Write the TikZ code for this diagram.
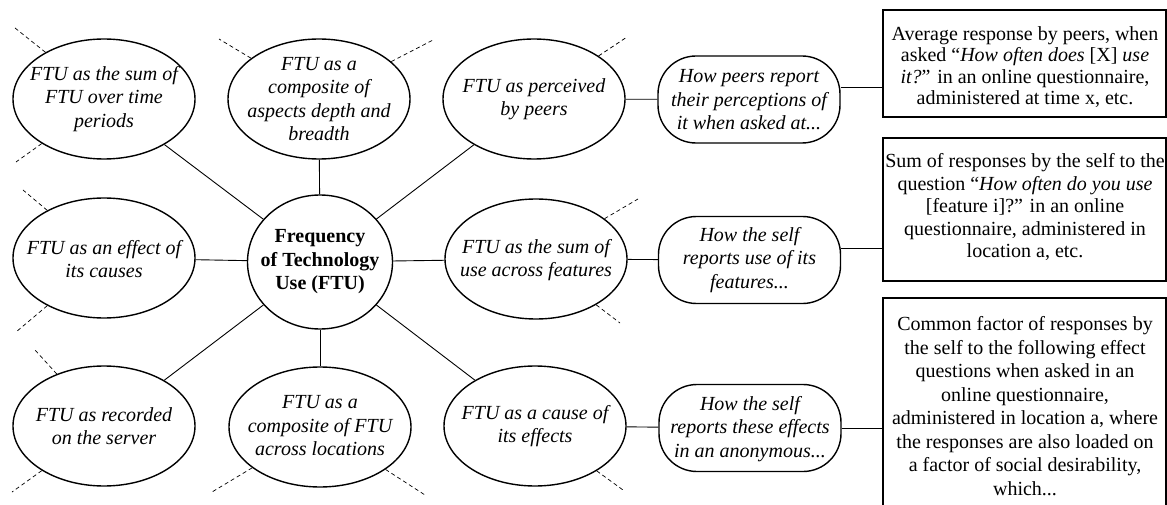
\documentclass[tikz,border=0pt]{standalone}
\usepackage{fontspec}
\setmainfont{Liberation Serif}[ItalicFont={Liberation Serif Italic},BoldFont={Liberation Serif Bold},BoldItalicFont={Liberation Serif Bold Italic}]
\usetikzlibrary{shapes.geometric}
\begin{document}
\begin{tikzpicture}[x=1pt,y=-1pt,
  ell/.style={draw, ellipse, line width=1.4pt, minimum width=182pt, minimum height=120pt, inner sep=0pt},
  etext/.style={align=center, font=\fontsize{20}{23.5}\selectfont\itshape, inner sep=0pt},
  ctext/.style={align=center, font=\fontsize{20}{23.5}\selectfont\bfseries, inner sep=0pt},
  pill/.style={draw, rectangle, rounded corners=38pt, line width=1.4pt, minimum width=182pt, minimum height=87pt, inner sep=0pt},
  boxshape/.style={draw, rectangle, line width=1.6pt, inner sep=0pt, minimum width=283pt},
  btext/.style={align=center, inner sep=0pt},
  link/.style={line width=0.9pt},
  stub/.style={line width=0.7pt, dash pattern=on 4pt off 3pt}
]
\useasboundingbox (0,0) rectangle (1167,505);
\clip (0,0) rectangle (1167,505);

% ellipses
\node[ell] (e1) at (104,99) {};
\node[ell] (e2) at (319,99) {};
\node[ell] (e3) at (534,99) {};
\node[ell] (e4) at (104,258) {};
\node[ell] (e5) at (536,259) {};
\node[ell] (e6) at (104,426) {};
\node[ell] (e7) at (320,427) {};
\node[ell] (e8) at (535,426) {};
\node[draw, ellipse, line width=1.4pt, minimum width=145pt, minimum height=134pt, inner sep=0pt] (c) at (320,262) {};

\node[etext] (e1t) at (104,99) {FTU as the sum of\\FTU over time\\periods};
\node[etext] (e2t) at (319,99) {FTU as a\\composite of\\aspects depth and\\breadth};
\node[etext] (e3t) at (534,99) {FTU as perceived\\by peers};
\node[etext] (e4t) at (104,259) {FTU as an effect of\\its causes};
\node[etext] (e5t) at (536,260) {FTU as the sum of\\use across features};
\node[etext] (e6t) at (104,426) {FTU as recorded\\on the server};
\node[etext] (e7t) at (320,426) {FTU as a\\composite of FTU\\across locations};
\node[etext] (e8t) at (535,426) {FTU as a cause of\\its effects};
\node[ctext] (ct) at (320,262) {Frequency\\of Technology\\Use (FTU)};

% pills
\node[pill] (r1) at (749,99.5) {};
\node[pill] (r2) at (749.5,260) {};
\node[pill] (r3) at (750,428) {};
\node[etext] (r1t) at (749,100) {How peers report\\their perceptions of\\it when asked at...};
\node[etext] (r2t) at (749.5,260) {How the self\\reports use of its\\features...};
\node[etext] (r3t) at (750,429) {How the self\\reports these effects\\in an anonymous...};

% boxes
\node[boxshape, minimum height=107pt] (b1) at (1024.5,63.5) {};
\node[boxshape, minimum height=143pt] (b2) at (1024.5,209.5) {};
\node[boxshape, minimum height=242pt] (b3) at (1024.5,419) {};
\node[btext, font=\fontsize{20}{21.5}\selectfont] (b1t) at (1025,67) {Average response by peers, when\\asked “\textit{How often does} [X] \textit{use}\\\textit{it?}” in an online questionnaire,\\administered at time x, etc.};
\node[btext, font=\fontsize{20}{22.5}\selectfont] (b2t) at (1025,207) {Sum of responses by the self to the\\question “\textit{How often do you use}\\{}[feature i]?” in an online\\questionnaire, administered in\\location a, etc.};
\node[btext, font=\fontsize{20}{23.5}\selectfont] (b3t) at (1025,406) {Common factor of responses by\\the self to the following effect\\questions when asked in an\\online questionnaire,\\administered in location a, where\\the responses are also loaded on\\a factor of social desirability,\\which...};

% connectors
\foreach \e in {e1,e2,e3,e4,e5,e6,e7,e8} \draw[link] (c) -- (\e);
\draw[link] (e3) -- (r1);
\draw[link] (e5) -- (r2);
\draw[link] (e8) -- (r3);
\coordinate (k1) at (883,87);
\coordinate (k2) at (883,248);
\coordinate (k3) at (883,428);
\draw[link] (r1.east |- k1) -- (k1);
\draw[link] (r2.east |- k2) -- (k2);
\draw[link] (r3.east |- k3) -- (k3);

% dashed stubs
\coordinate (d1) at (15,28);
\coordinate (d2) at (16,162);
\coordinate (d3) at (219,39);
\coordinate (d4) at (433,40);
\coordinate (d5) at (627,37);
\coordinate (d6) at (23,190);
\coordinate (d7) at (16,332);
\coordinate (d8) at (638,199);
\coordinate (d9) at (620,323);
\coordinate (d10) at (35,350);
\coordinate (d11) at (12,492);
\coordinate (d12) at (212,492);
\coordinate (d13) at (425,495);
\coordinate (d14) at (623,490);
\draw[stub] (e1) -- (d1);
\draw[stub] (e1) -- (d2);
\draw[stub] (e2) -- (d3);
\draw[stub] (e2) -- (d4);
\draw[stub] (e3) -- (d5);
\draw[stub] (e4) -- (d6);
\draw[stub] (e4) -- (d7);
\draw[stub] (e5) -- (d8);
\draw[stub] (e5) -- (d9);
\draw[stub] (e6) -- (d10);
\draw[stub] (e6) -- (d11);
\draw[stub] (e7) -- (d12);
\draw[stub] (e7) -- (d13);
\draw[stub] (e8) -- (d14);
\end{tikzpicture}
\end{document}
